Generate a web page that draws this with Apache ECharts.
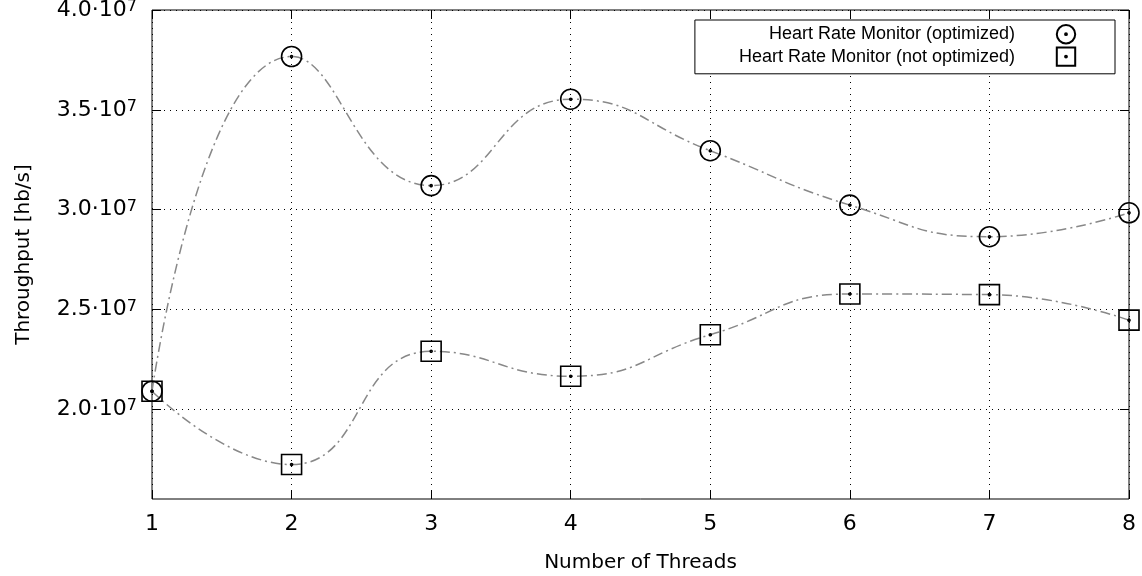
<!DOCTYPE html>
<html>
<head>
<meta charset="utf-8">
<title>Throughput</title>
<script src="https://cdn.jsdelivr.net/npm/echarts@6/dist/echarts.min.js"></script>
<style>
  html, body { margin: 0; padding: 0; background: #fff; }
  #main { width: 1142px; height: 576px; }
</style>
</head>
<body>
<div id="main"></div>
<script>
// data
var threads = [1, 2, 3, 4, 5, 6, 7, 8];
var optimized = [2.09e7, 3.767e7, 3.12e7, 3.553e7, 3.295e7, 3.0225e7, 2.864e7, 2.984e7];
var notOptimized = [2.09e7, 1.7225e7, 2.29e7, 2.165e7, 2.373e7, 2.577e7, 2.574e7, 2.446e7];
var yTicks = [2.0e7, 2.5e7, 3.0e7, 3.5e7, 4.0e7];
var seriesNames = ['Heart Rate Monitor (optimized)', 'Heart Rate Monitor (not optimized)'];

// open symbols with a dot in the middle (gnuplot style)
var dot = ' M1,0 A1,1 0 1,1 -1,0 A1,1 0 1,1 1,0 Z';
var circleSym = 'path://M10,0 A10,10 0 1,1 -10,0 A10,10 0 1,1 10,0 Z' + dot;
var squareSym = 'path://M-10,-10 L10,-10 L10,10 L-10,10 Z' + dot;

function pairs(ys) {
  return threads.map(function (t, i) { return [t, ys[i]]; });
}

var font = 'DejaVu Sans';
var gridDots = { show: true, lineStyle: { color: '#000', width: 1, type: [1, 5] } };

var myChart = echarts.init(document.getElementById('main'));
myChart.setOption({
  animation: false,
  backgroundColor: '#fff',
  grid: {
    left: 152, right: 13, top: 10, bottom: 77,
    show: true, borderColor: '#000', borderWidth: 1,
    outerBoundsMode: 'none'
  },
  legend: {
    data: seriesNames,
    orient: 'vertical',
    align: 'right',
    right: 27,
    top: 20,
    itemWidth: 92,
    itemHeight: 23,
    itemGap: 2,
    padding: [4, 3, 7, 44],
    backgroundColor: '#fff',
    borderColor: '#000',
    borderWidth: 1,
    borderRadius: 0,
    lineStyle: { width: 0, color: 'rgba(0,0,0,0)' },
    textStyle: { fontFamily: 'Liberation Sans', fontSize: 18, color: '#000' }
  },
  xAxis: [{
    type: 'value',
    min: 1, max: 8, interval: 1,
    name: 'Number of Threads',
    nameLocation: 'middle',
    nameGap: 54,
    nameTextStyle: { fontFamily: font, fontSize: 20, color: '#000' },
    axisLine: { show: false },
    axisTick: { show: true, inside: true, length: 9, lineStyle: { color: '#000' } },
    axisLabel: { margin: 14, fontFamily: font, fontSize: 22, color: '#000', lineHeight: 22 },
    splitLine: gridDots
  }, {
    type: 'value',
    position: 'top',
    min: 1, max: 8, interval: 1,
    axisLine: { show: false },
    axisTick: { show: true, inside: true, length: 9, lineStyle: { color: '#000' } },
    axisLabel: { show: false },
    splitLine: { show: false }
  }],
  yAxis: [{
    type: 'value',
    min: 1.55e7, max: 4.0e7,
    name: 'Throughput [hb/s]',
    nameLocation: 'middle',
    nameGap: 118,
    nameTextStyle: { fontFamily: font, fontSize: 20, color: '#000' },
    axisLine: { show: false },
    axisTick: { show: true, inside: true, length: 9, customValues: yTicks, lineStyle: { color: '#000' } },
    axisLabel: {
      margin: 15,
      customValues: yTicks,
      formatter: function (v) {
        return '{m|' + (v / 1e7).toFixed(1) + '·10}{e|7}';
      },
      rich: {
        m: { fontFamily: font, fontSize: 22, color: '#000', lineHeight: 22, verticalAlign: 'bottom' },
        e: { fontFamily: font, fontSize: 16, color: '#000', lineHeight: 16, verticalAlign: 'top', padding: [0, 0, 9, 0] }
      }
    },
    splitLine: gridDots
  }, {
    type: 'value',
    position: 'right',
    min: 1.55e7, max: 4.0e7,
    axisLine: { show: false },
    axisTick: { show: true, inside: true, length: 9, customValues: yTicks, lineStyle: { color: '#000' } },
    axisLabel: { show: false },
    splitLine: { show: false }
  }],
  series: [{
    name: seriesNames[0],
    type: 'line',
    data: pairs(optimized),
    smooth: 0.5,
    clip: false,
    symbol: circleSym,
    symbolSize: 20,
    showAllSymbol: true,
    lineStyle: { color: '#888', width: 1.5, type: [10, 4, 2, 4] },
    itemStyle: { color: 'rgba(0,0,0,0)', borderColor: '#000', borderWidth: 1.6 },
    emphasis: { disabled: true }
  }, {
    name: seriesNames[1],
    type: 'line',
    data: pairs(notOptimized),
    smooth: 0.5,
    clip: false,
    symbol: squareSym,
    symbolSize: 20,
    showAllSymbol: true,
    lineStyle: { color: '#888', width: 1.5, type: [10, 4, 2, 4] },
    itemStyle: { color: 'rgba(0,0,0,0)', borderColor: '#000', borderWidth: 1.6 },
    emphasis: { disabled: true }
  }]
});
</script>
</body>
</html>
